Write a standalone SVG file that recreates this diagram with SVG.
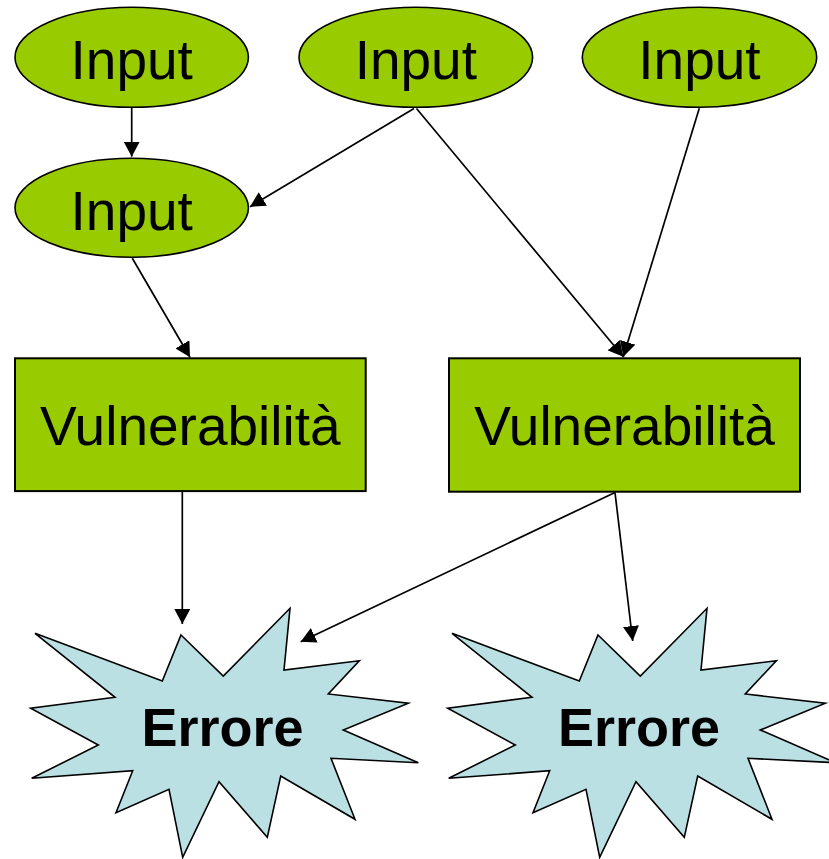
<svg xmlns="http://www.w3.org/2000/svg" width="829" height="859" viewBox="0 0 829 859">
  <defs>
    <style>
      .input { fill: #99CC00; stroke: #000; stroke-width: 1.6; }
      .vuln { fill: #99CC00; stroke: #000; stroke-width: 2; }
      .err { fill: #BBE0E3; stroke: #000; stroke-width: 1.6; stroke-linejoin: miter; }
      .lbl { font-family: "Liberation Sans", Arial, sans-serif; font-size: 55px; fill: #000; text-anchor: middle; }
      .errlbl { font-family: "Liberation Sans", Arial, sans-serif; font-size: 54px; font-weight: bold; fill: #000; text-anchor: middle; }
      .edge { stroke: #000; stroke-width: 1.7; fill: none; marker-end: url(#head); }
    </style>
    <marker id="head" markerUnits="userSpaceOnUse" markerWidth="16" markerHeight="16" refX="15" refY="8" orient="auto">
      <path d="M0,0 L15,8 L0,16 z" fill="#000"/>
    </marker>
    <path id="burst" d="M181,635 L223.3,676 L290,608.3 L284,670 L359.3,660.7 L328.3,694 L408.3,703.3 L343.3,730 L418.3,762.7 L331,758.3 L355,819.3 L280.7,776 L267.3,837.3 L219,781.7 L182.7,857.3 L169,789.3 L116,812.7 L132.7,770.7 L31.7,778.3 L98.3,745 L30.7,708.3 L115,697.3 L35,633.3 L162.3,681 Z"/>
  </defs>

  <rect width="829" height="859" fill="#fff"/>

  <g id="input-top-left">
    <ellipse class="input" cx="131.7" cy="57.3" rx="116.7" ry="50"/>
    <text class="lbl" x="131.7" y="79">Input</text>
  </g>
  <g id="input-top-middle">
    <ellipse class="input" cx="415.8" cy="57.3" rx="116.8" ry="50"/>
    <text class="lbl" x="415.8" y="79">Input</text>
  </g>
  <g id="input-top-right">
    <ellipse class="input" cx="699.5" cy="57.3" rx="117.2" ry="50"/>
    <text class="lbl" x="699.5" y="79">Input</text>
  </g>
  <g id="input-second">
    <ellipse class="input" cx="131.7" cy="207.8" rx="116.7" ry="49.5"/>
    <text class="lbl" x="131.7" y="229.5">Input</text>
  </g>

  <g id="vuln-left">
    <rect class="vuln" x="15" y="358.3" width="350.7" height="132.8"/>
    <text class="lbl" x="190.3" y="445">Vulnerabilità</text>
  </g>
  <g id="vuln-right">
    <rect class="vuln" x="449" y="358.3" width="351" height="133.4"/>
    <text class="lbl" x="624.5" y="445">Vulnerabilità</text>
  </g>

  <g id="error-left">
    <use href="#burst" class="err"/>
    <text class="errlbl" x="222.5" y="745.7">Errore</text>
  </g>
  <g id="error-right">
    <use href="#burst" class="err" transform="translate(417,0)"/>
    <text class="errlbl" x="639" y="745.7">Errore</text>
  </g>

  <g id="connectors">
    <line class="edge" x1="131.7" y1="107.3" x2="131.7" y2="156.7"/>
    <line class="edge" x1="414" y1="108.5" x2="250" y2="206.7"/>
    <line class="edge" x1="416.5" y1="108.5" x2="623.3" y2="356.7"/>
    <line class="edge" x1="699.3" y1="108.3" x2="623.3" y2="356.7"/>
    <line class="edge" x1="132.3" y1="258.3" x2="190" y2="357.3"/>
    <line class="edge" x1="182.3" y1="491.5" x2="182.3" y2="624"/>
    <line class="edge" x1="615" y1="492.5" x2="300.7" y2="641.7"/>
    <line class="edge" x1="615" y1="492.5" x2="632.7" y2="641"/>
  </g>
</svg>
